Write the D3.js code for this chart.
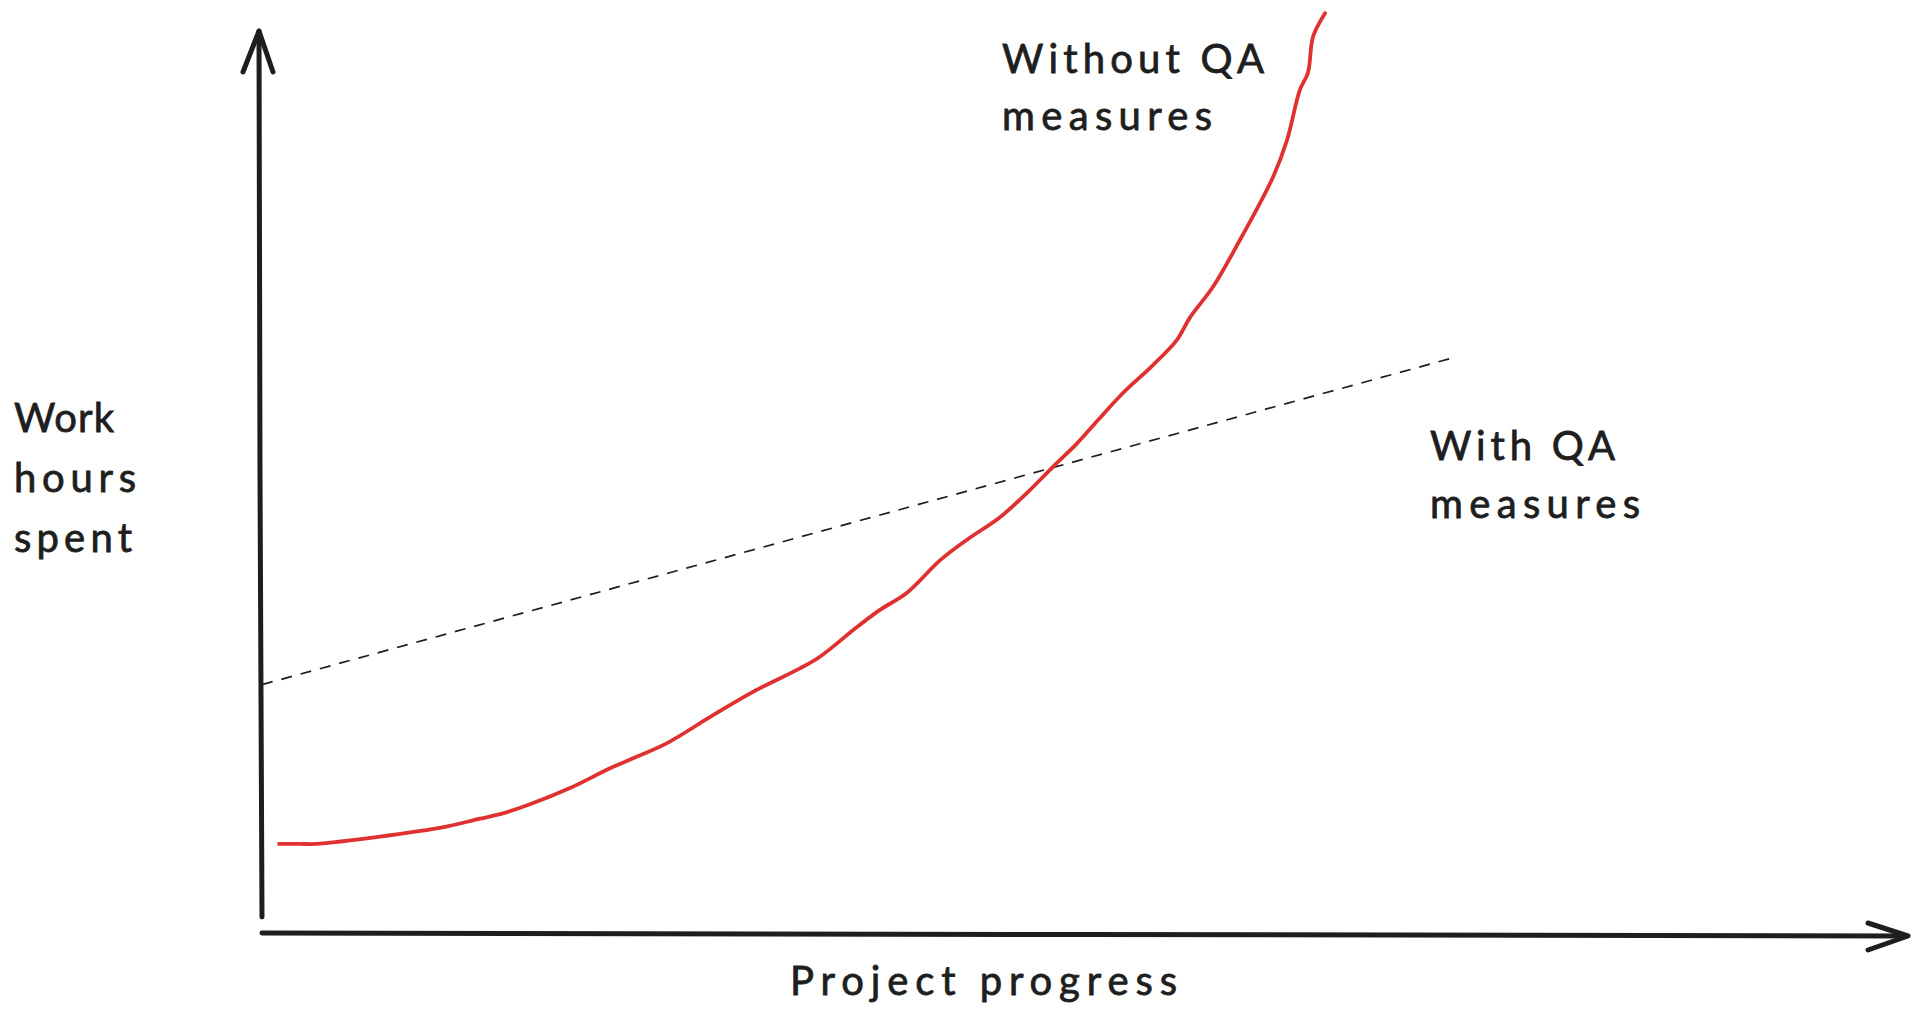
<!DOCTYPE html>
<html>
<head>
<meta charset="utf-8">
<script src="https://cdn.jsdelivr.net/npm/d3@7"></script>
<style>
  html, body { margin: 0; padding: 0; background: #ffffff; }
  svg { display: block; }
</style>
</head>
<body>
<script>
// ---- Data (project progress 0..100, work hours 0..100, arbitrary units) ----
const progressWithout = [1.04, 2.32, 3.29, 7.56, 10.91, 13.29, 14.51, 16.34, 18.78, 21.22, 22.87, 24.70,
  27.50, 29.94, 32.80, 34.02, 36.28, 37.68, 39.33, 41.34, 42.99, 45.00, 46.65, 48.23, 49.70, 50.98,
  52.50, 54.33, 55.79, 56.59, 57.99, 59.63, 61.65, 62.50, 63.29, 63.78, 64.09, 64.82];
const hoursWithout = [9.9, 9.9, 9.9, 10.8, 11.7, 12.7, 13.2, 14.3, 16.1, 18.3, 19.6, 21.1,
  24.2, 26.8, 29.4, 30.7, 34.0, 35.9, 37.8, 41.4, 43.7, 46.2, 48.9, 51.8, 54.4, 57.0,
  60.0, 63.1, 65.9, 68.4, 71.8, 77.0, 84.0, 88.1, 93.7, 95.6, 99.6, 102.2];
const progressWith = [0, 72.4];
const hoursWith = [27.6, 63.8];

const axisLabelX = "Project progress";
const axisLabelY = ["Work", "hours", "spent"];
const labelWithout = ["Without QA", "measures"];
const labelWith = ["With QA", "measures"];

// ---- Layout ----
const W = 1920, H = 1033;
const ink = "#1e1e1e", red = "#e03131";
const font = "Lato, 'Open Sans', sans-serif";

const x = d3.scaleLinear().domain([0, 100]).range([262, 1902]);
const y = d3.scaleLinear().domain([0, 100]).range([933, 33]);

const svg = d3.select("body").append("svg").attr("width", W).attr("height", H);

// Axes (hand-drawn style arrows, no ticks)
const g = svg.append("g").attr("fill", "none").attr("stroke", ink)
  .attr("stroke-linecap", "round").attr("stroke-linejoin", "round");

// Y axis
g.append("path").attr("stroke-width", 5)
  .attr("d", d3.line()([[x(0), y(0) - 16], [x(0) - 2, y(0) - 460], [x(0) - 3, 31]]));
g.append("path").attr("stroke-width", 5)
  .attr("d", d3.line()([[x(0) - 19, 72], [x(0) - 3, 31], [x(0) + 11, 72]]));

// X axis
g.append("path").attr("stroke-width", 5)
  .attr("d", d3.line()([[x(0), y(0)], [x(50), y(0) + 1.5], [x(100) + 4, y(0) + 3]]));
g.append("path").attr("stroke-width", 5)
  .attr("d", d3.line()([[x(100) - 34, y(0) - 10], [x(100) + 6, y(0) + 3], [x(100) - 34, y(0) + 17]]));

// Dashed "With QA" line
const withPts = progressWith.map((p, i) => [x(p), y(hoursWith[i])]);
svg.append("path")
  .attr("d", d3.line()(withPts))
  .attr("fill", "none").attr("stroke", ink).attr("stroke-width", 1.7)
  .attr("stroke-dasharray", "11,9");

// Red "Without QA" curve
const withoutPts = progressWithout.map((p, i) => [x(p), y(hoursWithout[i])]);
svg.append("path")
  .attr("d", d3.line().curve(d3.curveCatmullRom.alpha(0.5))(withoutPts))
  .attr("fill", "none").attr("stroke", red).attr("stroke-width", 3.8)
  .attr("stroke-linecap", "round").attr("stroke-linejoin", "round");

// ---- Text ----
function textBlock(lines, x0, y0, lh, widths) {
  lines.forEach((t, i) => {
    const el = svg.append("text")
      .attr("x", x0).attr("y", y0 + i * lh)
      .attr("font-family", font).attr("font-size", 40)
      .attr("fill", ink).attr("stroke", ink).attr("stroke-width", 0.8)
      .text(t);
    if (widths && widths[i]) el.attr("textLength", widths[i]).attr("lengthAdjust", "spacing");
  });
}

textBlock(axisLabelY, 14, 432, 60, [100, 122, 118]);
textBlock(labelWithout, 1002, 73, 57, [262, 210]);
textBlock(labelWith, 1430, 460, 58, [185, 210]);
textBlock([axisLabelX], 790, 995, 0, [387]);
</script>
</body>
</html>
